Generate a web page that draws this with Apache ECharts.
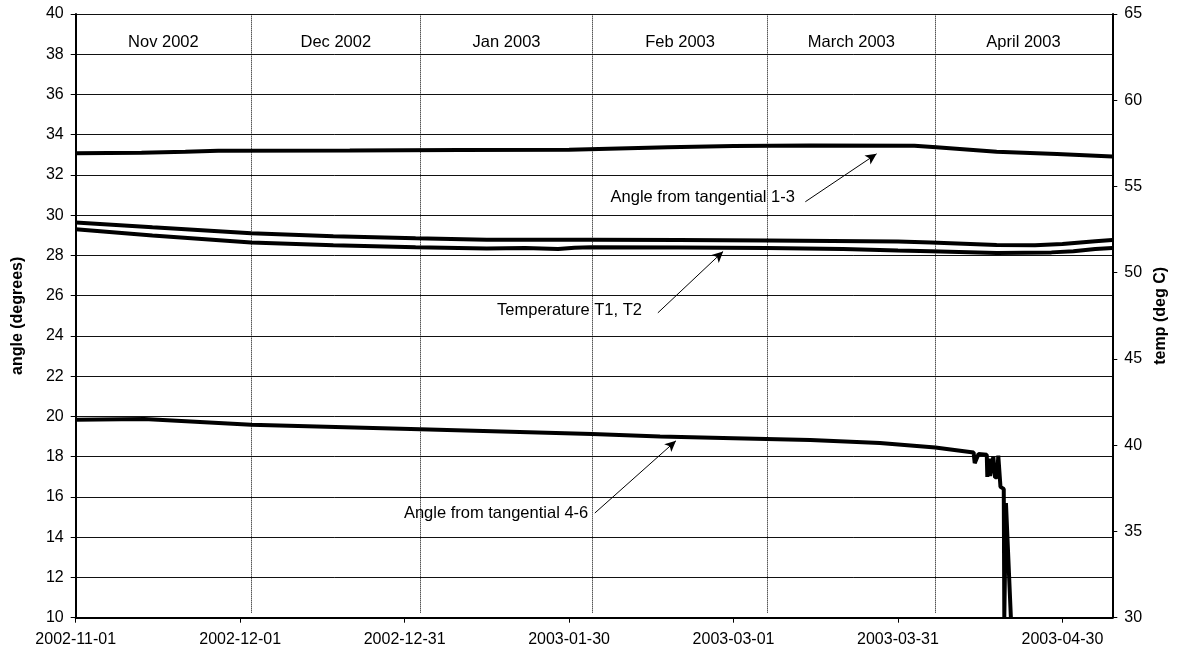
<!DOCTYPE html>
<html>
<head>
<meta charset="utf-8">
<script src="https://cdn.jsdelivr.net/npm/echarts@6/dist/echarts.min.js"></script>
<style>
html,body{margin:0;padding:0;background:#fff;}
#chart{width:1180px;height:655px;}
</style>
</head>
<body>
<div id="chart"></div>
<script>
// x values are days since 2002-11-01
var tickLabels = ['2002-11-01','2002-12-01','2002-12-31','2003-01-30','2003-03-01','2003-03-31','2003-04-30'];

var angle13Days = [0, 12, 20, 26, 50, 70, 90, 108, 120, 134, 153, 157, 168, 179, 189.1];
var angle13Vals = [33.08, 33.10, 33.15, 33.20, 33.22, 33.24, 33.26, 33.38, 33.44, 33.46, 33.45, 33.38, 33.16, 33.04, 32.92];

var angle46Days = [0, 12.5, 32, 62.8, 94.2, 106.6, 120, 134, 146.7, 156.8, 163.8, 164.0, 164.1, 164.7, 166.2, 166.3, 166.6, 166.8, 167.1, 167.4, 167.7, 168.1, 168.3, 168.7, 169.3, 169.4, 169.7, 170.6];
var angle46Vals = [19.84, 19.87, 19.59, 19.37, 19.13, 19.00, 18.92, 18.83, 18.68, 18.46, 18.21, 17.68, 17.68, 18.14, 18.10, 17.00, 17.90, 17.05, 17.00, 18.00, 16.98, 16.98, 18.05, 16.50, 16.40, 10.0, 15.70, 10.0];

var t1Days = [0, 14, 32, 47, 62, 75, 94, 110, 126, 150, 156, 168, 175, 180, 186, 189.1];
var t1Vals = [52.91, 52.63, 52.29, 52.12, 52.00, 51.91, 51.91, 51.90, 51.87, 51.81, 51.75, 51.61, 51.60, 51.67, 51.83, 51.90];

var t2Days = [0, 14, 32, 47, 62, 75, 82, 88, 91, 94, 110, 126, 140, 150, 156, 168, 178, 182, 186, 189.1];
var t2Vals = [52.52, 52.16, 51.75, 51.60, 51.48, 51.40, 51.43, 51.38, 51.45, 51.48, 51.46, 51.43, 51.38, 51.29, 51.24, 51.14, 51.18, 51.24, 51.38, 51.44];

var monthSepDays = [32.0, 62.9, 94.3, 126.2, 156.8];
var monthNames = ['Nov 2002','Dec 2002','Jan 2003','Feb 2003','March 2003','April 2003'];
var monthLabelDays = [16, 47.45, 78.6, 110.25, 141.5, 172.9];
var monthLabelY = 38.6;

var noteTexts = ['Angle from tangential 1-3', 'Temperature T1, T2', 'Angle from tangential 4-6'];
var noteTextPos = [[131.2, 30.86], [103.3, 25.25], [93.5, 15.17]];
var arrowTails = [[133.1, 30.67], [106.2, 25.15], [94.7, 15.2]];
var arrowTips = [[146.1, 33.05], [118.1, 28.2], [109.5, 18.79]];

function zip(a, b) { return a.map(function (v, i) { return [v, b[i]]; }); }

var FONT = '"Liberation Sans", Arial, sans-serif';
var lineStyleThick = { color: '#000', width: 4 };

var chart = echarts.init(document.getElementById('chart'), null, { renderer: 'canvas' });
var option = {
  animation: false,
  backgroundColor: '#fff',
  textStyle: { fontFamily: FONT, color: '#000' },
  grid: { left: 75.7, right: 67.7, top: 14, bottom: 37.3, containLabel: false },
  xAxis: {
    type: 'value', min: 0, max: 189.1, interval: 30,
    axisLine: { show: true, lineStyle: { color: '#000', width: 2 } },
    axisTick: { show: true, length: 5, lineStyle: { color: '#000', width: 1 } },
    axisLabel: {
      margin: 14, fontSize: 16, color: '#000', fontFamily: FONT, showMaxLabel: false,
      formatter: function (v) { return (Math.abs(v % 30) < 1e-6) ? tickLabels[Math.round(v / 30)] : ''; }
    },
    splitLine: { show: false }
  },
  yAxis: [{
    type: 'value', min: 10, max: 40, interval: 2, position: 'left',
    name: 'angle (degrees)', nameLocation: 'middle', nameGap: 50, nameRotate: 90,
    nameTextStyle: { fontSize: 16, fontWeight: 'bold', color: '#000', fontFamily: FONT },
    axisLine: { show: true, lineStyle: { color: '#000', width: 2 } },
    axisTick: { show: true, length: 5, lineStyle: { color: '#000', width: 1 } },
    axisLabel: { margin: 12, fontSize: 16, color: '#000', fontFamily: FONT },
    splitLine: { show: true, lineStyle: { color: '#111', width: 1 } }
  }, {
    type: 'value', min: 30, max: 65, interval: 5, position: 'right',
    name: 'temp (deg C)', nameLocation: 'middle', nameGap: 40, nameRotate: 90,
    nameTextStyle: { fontSize: 16, fontWeight: 'bold', color: '#000', fontFamily: FONT },
    axisLine: { show: true, lineStyle: { color: '#000', width: 2 } },
    axisTick: { show: true, length: 5, lineStyle: { color: '#000', width: 1 } },
    axisLabel: { margin: 12, fontSize: 16, color: '#000', fontFamily: FONT },
    splitLine: { show: false }
  }],
  series: [
    {
      name: 'T1', type: 'line', yAxisIndex: 1, data: zip(t1Days, t1Vals),
      showSymbol: false, symbol: 'none', lineStyle: lineStyleThick, z: 3
    },
    {
      name: 'T2', type: 'line', yAxisIndex: 1, data: zip(t2Days, t2Vals),
      showSymbol: false, symbol: 'none', lineStyle: lineStyleThick, z: 3
    },
    {
      name: 'Angle from tangential 1-3', type: 'line', yAxisIndex: 0, data: zip(angle13Days, angle13Vals),
      showSymbol: false, symbol: 'none', lineStyle: lineStyleThick, z: 3
    },
    {
      name: 'Angle from tangential 4-6', type: 'line', yAxisIndex: 0, data: zip(angle46Days, angle46Vals),
      showSymbol: false, symbol: 'none', lineStyle: lineStyleThick, z: 3, clip: true
    },
    {
      name: 'separators', type: 'line', yAxisIndex: 0, data: [], z: 2,
      markLine: {
        silent: true, symbol: ['none', 'none'], label: { show: false },
        lineStyle: { color: '#000', type: [1, 1], width: 1 },
        data: monthSepDays.map(function (d) { return [{ coord: [d, 10.25] }, { coord: [d, 40] }]; })
      }
    },
    {
      name: 'arrows', type: 'line', yAxisIndex: 0, data: [], z: 4,
      markLine: {
        silent: true, symbol: ['none', 'arrow'], symbolSize: [8, 11], label: { show: false },
        lineStyle: { color: '#000', type: 'solid', width: 1 },
        data: arrowTails.map(function (t, i) { return [{ coord: t }, { coord: arrowTips[i] }]; })
      }
    },
    {
      name: 'months', type: 'scatter', yAxisIndex: 0, symbolSize: 0, z: 5,
      itemStyle: { opacity: 1 },
      data: monthLabelDays.map(function (d, i) { return { value: [d, monthLabelY], name: monthNames[i] }; }),
      label: {
        show: true, position: [0, 0], align: 'center', verticalAlign: 'middle',
        fontSize: 16.5, color: '#000', fontFamily: FONT,
        formatter: function (p) { return p.name; }
      }
    },
    {
      name: 'notes', type: 'scatter', yAxisIndex: 0, symbolSize: 0, z: 5,
      itemStyle: { opacity: 1 },
      data: noteTextPos.map(function (p, i) { return { value: p, name: noteTexts[i] }; }),
      label: {
        show: true, position: [0, 0], align: 'right', verticalAlign: 'middle',
        fontSize: 16.5, color: '#000', fontFamily: FONT,
        formatter: function (p) { return p.name; }
      }
    }
  ]
};
chart.setOption(option);
</script>
</body>
</html>
